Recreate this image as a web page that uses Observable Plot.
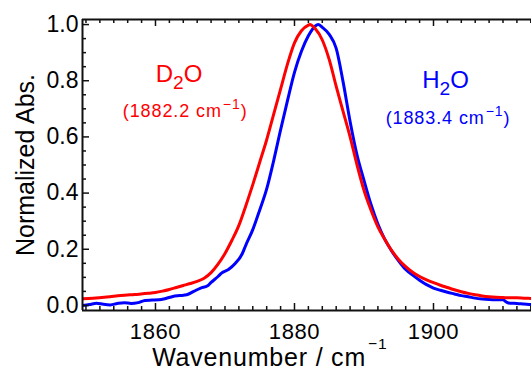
<!DOCTYPE html>
<html>
<head>
<meta charset="utf-8">
<script src="https://cdn.jsdelivr.net/npm/d3@7"></script>
<script src="https://cdn.jsdelivr.net/npm/@observablehq/plot@0.6"></script>
<style>
  html, body { margin: 0; padding: 0; background: white; }
</style>
</head>
<body>
<div id="chart"></div>
<script>
// ---- data ----
const redWn = [1849.5, 1851, 1853, 1855, 1857, 1859, 1860, 1861, 1862, 1863, 1864, 1865, 1866, 1867, 1868, 1869, 1870, 1871, 1872, 1873, 1874, 1875, 1876, 1877, 1878, 1879, 1880, 1881, 1882, 1882.2, 1883, 1884, 1885, 1886, 1887, 1888, 1889, 1890, 1891, 1892, 1893, 1894, 1895, 1896, 1897, 1898, 1899, 1900, 1901, 1902, 1903, 1904, 1905, 1906, 1907, 1908, 1909, 1910, 1911, 1912, 1913, 1914.1];
const redAbs = [0.024, 0.026, 0.030, 0.035, 0.039, 0.043, 0.046, 0.051, 0.057, 0.064, 0.071, 0.078, 0.086, 0.097, 0.117, 0.147, 0.185, 0.232, 0.285, 0.355, 0.43, 0.51, 0.59, 0.68, 0.77, 0.86, 0.935, 0.978, 0.998, 1.0, 0.985, 0.945, 0.875, 0.78, 0.69, 0.60, 0.50, 0.41, 0.34, 0.28, 0.235, 0.195, 0.163, 0.138, 0.118, 0.103, 0.091, 0.081, 0.072, 0.064, 0.056, 0.049, 0.043, 0.038, 0.034, 0.031, 0.029, 0.028, 0.027, 0.027, 0.026, 0.025];

const blueWn = [1849.5, 1850.5, 1851.5, 1852.5, 1853.5, 1854.5, 1855.5, 1856.5, 1857.5, 1858.5, 1859.5, 1860.5, 1861.5, 1862.5, 1863.5, 1864.5, 1865.5, 1866.5, 1867.5, 1868, 1869, 1869.5, 1870.5, 1871.5, 1872.5, 1873, 1874, 1875, 1876, 1877, 1878, 1879, 1880, 1881, 1882, 1883, 1883.4, 1884, 1885, 1886, 1887, 1888, 1889, 1890, 1891, 1892, 1893, 1894, 1895, 1896, 1897, 1898, 1899, 1900, 1901, 1902, 1903, 1904, 1905, 1906, 1907, 1908, 1909, 1910, 1910.5, 1911, 1912, 1913, 1914.1];
const blueAbs = [0.0, 0.003, 0.008, 0.004, 0.002, 0.007, 0.010, 0.007, 0.010, 0.018, 0.019, 0.020, 0.025, 0.032, 0.035, 0.038, 0.050, 0.062, 0.070, 0.082, 0.103, 0.115, 0.128, 0.150, 0.185, 0.215, 0.27, 0.34, 0.415, 0.515, 0.625, 0.73, 0.83, 0.905, 0.96, 0.995, 1.0, 0.99, 0.965, 0.915, 0.795, 0.655, 0.535, 0.445, 0.36, 0.29, 0.235, 0.193, 0.158, 0.128, 0.108, 0.09, 0.074, 0.062, 0.054, 0.047, 0.041, 0.035, 0.031, 0.026, 0.023, 0.021, 0.020, 0.020, 0.012, 0.008, 0.007, 0.005, 0.003];

const xTickLabels = [1860, 1880, 1900];
const yTickLabels = [0.0, 0.2, 0.4, 0.6, 0.8, 1.0];
const d2oName = "D₂O";
const d2oPeak = "(1882.2 cm⁻¹)";
const h2oName = "H₂O";
const h2oPeak = "(1883.4 cm⁻¹)";
const xTitle = "Wavenumber / cm⁻¹";
const yTitle = "Normalized Abs.";

// ---- layout ----
const W = 531, H = 369;
const mL = 82, mR = 0, mT = 19, mB = 59;
const pw = W - mL - mR, ph = H - mT - mB;
const xDomain = [1849.5, 1914.1];
const yDomain = [-0.018, 1.018];
const RED = "#ff0000", BLUE = "#0000ff";

const red = redWn.map((x, i) => ({x, y: redAbs[i]}));
const blue = blueWn.map((x, i) => ({x, y: blueAbs[i]}));

const xMinor = d3.range(1850, 1915, 2).filter(v => !xTickLabels.includes(v));
const yMinor = d3.range(0, 21).map(i => i * 0.05).filter(v => !yTickLabels.some(t => Math.abs(t - v) < 1e-9));

const MAJ = 7, MIN = 4;

const svg = Plot.plot({
  width: W, height: H,
  marginLeft: mL, marginRight: mR, marginTop: mT, marginBottom: mB,
  x: {domain: xDomain},
  y: {domain: yDomain},
  style: {fontFamily: "'Liberation Sans', Arial, sans-serif", fontSize: "22px", background: "white", color: "black"},
  marks: [
    Plot.line(blue, {x: "x", y: "y", stroke: BLUE, strokeWidth: 3, curve: "monotone-x", clip: true}),
    Plot.line(red, {x: "x", y: "y", stroke: RED, strokeWidth: 3, curve: "monotone-x", clip: true}),
    // frame lines
    Plot.ruleX([xDomain[0]], {stroke: "#111", strokeWidth: 2}),
    Plot.ruleY([yDomain[0]], {stroke: "#111", strokeWidth: 2}),
    Plot.ruleY([yDomain[1]], {stroke: "#111", strokeWidth: 2}),
    // inward ticks: bottom
    Plot.ruleX(xTickLabels, {insetTop: ph - MAJ, stroke: "#111", strokeWidth: 1.5}),
    Plot.ruleX(xMinor, {insetTop: ph - MIN, stroke: "#111", strokeWidth: 1.5}),
    // top
    Plot.ruleX(xTickLabels, {insetBottom: ph - MAJ, stroke: "#111", strokeWidth: 1.5}),
    Plot.ruleX(xMinor, {insetBottom: ph - MIN, stroke: "#111", strokeWidth: 1.5}),
    // left
    Plot.ruleY(yTickLabels, {insetRight: pw - MAJ, stroke: "#111", strokeWidth: 1.5}),
    Plot.ruleY(yMinor, {insetRight: pw - MIN, stroke: "#111", strokeWidth: 1.5}),
    // tick labels
    Plot.axisX({ticks: xTickLabels, tickSize: 0, tickPadding: 13, tickFormat: d => String(d), fontSize: 22, label: null}),
    Plot.axisY({ticks: yTickLabels, tickSize: 0, tickPadding: 4, tickFormat: d => d.toFixed(1), fontSize: 23, label: null}),
    // axis titles
    Plot.text([xTitle], {x: 1859.52, frameAnchor: "bottom", dy: 55, textAnchor: "start", lineAnchor: "bottom", fontSize: 25, fill: "black"}),
    Plot.text([yTitle], {frameAnchor: "left", dx: -49, rotate: -90, textAnchor: "middle", lineAnchor: "bottom", fontSize: 25, fill: "black"}),
    // annotations
    Plot.text([d2oName], {x: 1863.4, y: 0.795, lineAnchor: "bottom", fontSize: 24, fill: RED}),
    Plot.text([d2oPeak], {x: 1864.27, y: 0.670, lineAnchor: "bottom", fontSize: 18, fill: RED}),
    Plot.text([h2oName], {x: 1901.73, y: 0.775, lineAnchor: "bottom", fontSize: 24, fill: BLUE}),
    Plot.text([h2oPeak], {x: 1902.09, y: 0.647, lineAnchor: "bottom", fontSize: 18, fill: BLUE})
  ]
});

// rich text: subscripts / superscripts as tspans, plus letter spacing
function richify(root) {
  const NS = "http://www.w3.org/2000/svg";
  root.querySelectorAll("text").forEach(t => {
    if (t.querySelector("tspan")) return;
    const s = t.textContent;
    if (/^\d{4}$/.test(s)) t.style.letterSpacing = "0.6px";
    if (!/⁻¹|₂/.test(s)) return;
    const isTitle = s.startsWith("Wavenumber");
    if (isTitle) t.style.letterSpacing = "0.8px";
    else if (s.startsWith("(")) t.style.letterSpacing = "0.9px";
    const parts = s.split(/(⁻¹|₂)/);
    t.textContent = "";
    parts.forEach(p => {
      if (!p) return;
      const ts = document.createElementNS(NS, "tspan");
      if (p === "⁻¹") {
        ts.textContent = "−1";
        ts.setAttribute("font-size", isTitle ? "0.62em" : "0.78em");
        ts.setAttribute("baseline-shift", isTitle ? "1.1em" : "0.6em");
        ts.setAttribute("dx", isTitle ? "2" : "1");
      } else if (p === "₂") {
        ts.textContent = "2";
        ts.setAttribute("font-size", "0.8em");
        ts.setAttribute("baseline-shift", "-0.35em");
      } else {
        ts.textContent = p;
      }
      t.appendChild(ts);
    });
  });
}
richify(svg);
document.getElementById("chart").appendChild(svg);
</script>
</body>
</html>
